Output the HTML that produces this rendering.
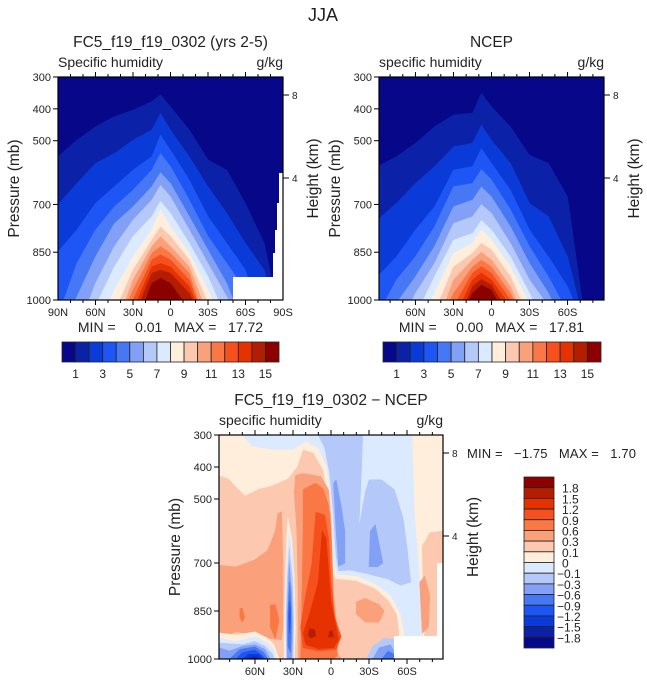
<!DOCTYPE html>
<html><head><meta charset="utf-8">
<style>
html,body{margin:0;padding:0;background:#fff;}
svg text{font-family:"Liberation Sans",sans-serif;fill:#222;}
.pre{white-space:pre;}
</style></head>
<body>
<svg id="fig" width="647" height="684" viewBox="0 0 647 684" xmlns="http://www.w3.org/2000/svg">
<defs>
<clipPath id="clip1"><rect x="58" y="77" width="225" height="223"/></clipPath>
<clipPath id="clip2"><rect x="379" y="77" width="225" height="223"/></clipPath>
<clipPath id="clip3"><rect x="219" y="435" width="224" height="224"/></clipPath>
</defs>
<text x="323" y="21" font-size="18" text-anchor="middle">JJA</text>
<g id="p1"></g><g id="p2"></g><g id="p3"></g>
<g id="cb1"></g><g id="cb2"></g><g id="cb3"></g>
</svg>
<script>
const NS='http://www.w3.org/2000/svg';
const palette=['#07078a','#0b22a8','#0a3ad8','#1e55f5','#4678f5','#82a0f5','#b4c8fa','#dceaff','#ffeedc','#fcc8b0','#faa07a','#fa7846','#f5501e','#e63200','#b41e00','#8c0000'];
const latGrid=[90,75,60,45,30,15,8,0,-15,-30,-45,-60,-75,-90];
const fc5Contours=[
[550,498,456,424,404,377,356,393,466,560,592,697,822,1100],
[700,634,571,540,498,466,414,466,550,644,728,822,906,1100],
[848,780,696,644,592,550,482,529,623,738,822,906,1100,1100],
[1050,885,780,707,655,592,540,581,686,800,885,969,1100,1100],
[1100,990,864,760,707,644,600,634,738,843,948,1100,1100,1100],
[1100,1100,948,832,749,686,640,676,780,885,990,1100,1100,1100],
[1100,1100,1020,896,800,738,690,728,822,927,1060,1100,1100,1100],
[1100,1100,1100,969,864,780,717,770,853,969,1100,1100,1100,1100],
[1100,1100,1100,1040,906,812,770,800,874,1010,1100,1100,1100,1100],
[1100,1100,1100,1100,937,832,801,832,896,1050,1100,1100,1100,1100],
[1100,1100,1100,1100,969,853,832,853,916,1100,1100,1100,1100,1100],
[1100,1100,1100,1100,1000,874,858,874,937,1100,1100,1100,1100,1100],
[1100,1100,1100,1100,1030,896,885,896,958,1100,1100,1100,1100,1100],
[1100,1100,1100,1100,1060,916,906,916,979,1100,1100,1100,1100,1100],
[1100,1100,1100,1100,1100,948,932,948,1030,1100,1100,1100,1100,1100]];
const ncepContours=[
[581,550,508,456,419,414,351,393,456,545,571,676,1100,1100],
[749,696,634,581,519,508,451,498,571,696,738,864,1100,1100],
[927,864,780,707,592,581,524,571,655,780,864,958,1100,1100],
[1050,937,864,770,644,634,590,623,717,832,927,1040,1100,1100],
[1100,1010,927,832,707,686,645,676,770,885,979,1100,1100,1100],
[1100,1100,979,885,760,738,700,728,822,937,1020,1100,1100,1100],
[1100,1100,1050,927,812,791,750,780,864,979,1100,1100,1100,1100],
[1100,1100,1100,979,853,822,780,812,896,1010,1100,1100,1100,1100],
[1100,1100,1100,1040,896,853,822,843,927,1060,1100,1100,1100,1100],
[1100,1100,1100,1100,937,874,850,874,958,1100,1100,1100,1100,1100],
[1100,1100,1100,1100,979,896,875,896,979,1100,1100,1100,1100,1100],
[1100,1100,1100,1100,1020,916,895,916,1000,1100,1100,1100,1100,1100],
[1100,1100,1100,1100,1060,937,915,937,1020,1100,1100,1100,1100,1100],
[1100,1100,1100,1100,1100,958,935,953,1050,1100,1100,1100,1100,1100],
[1100,1100,1100,1100,1100,979,953,969,1080,1100,1100,1100,1100,1100]];
const diffBase=9;
const diffRegions=[
[8,[[88.4,300],[88.4,426],[81,436],[68,489],[57,468],[47,458],[34,436],[27,400],[22,345],[14,355],[6,410],[3,500],[2,600],[1,700],[-3,748],[-20,755],[-35,780],[-45,815],[-52,860],[-54,920],[-52,1000],[-75,1000],[-72,640],[-80,620],[-88.4,610],[-88.4,300]]],
[7,[[70,300],[62,335],[45,345],[30,345],[20,320],[10,340],[3,400],[0,500],[-1,600],[-2,700],[-5,735],[-20,740],[-35,765],[-47,800],[-55,860],[-58,920],[-56,1000],[-73,1000],[-71,900],[-70,760],[-68,650],[-66,560],[-64,300]]],
[6,[[10,300],[-25,300],[-24,420],[-22,590],[-27,480],[-30,440],[-40,440],[-50,470],[-57,560],[-60,650],[-63,760],[-55,770],[-45,750],[-30,735],[-15,722],[-6,725],[-4,680],[-2,550],[1,420],[5,340]]],
[5,[[-2,450],[-4,440],[-8,520],[-11,600],[-11,700],[-6,710],[-4,600]]],
[5,[[-31,600],[-35,580],[-41,700],[-37,712],[-30,712]]],
[9,[[-72,650],[-78,605],[-88.4,600],[-88.4,960],[-74,960]]],
[10,[[-70,760],[-74,740],[-78,800],[-77,900],[-72,920]]],
[10,[[28,426],[22,420],[8,430],[2,470],[0,560],[-1,700],[-2,800],[-5,900],[-5,980],[-8,1000],[26,1000],[26,800],[27,600],[29,480]]],
[10,[[88.4,707],[75,712],[60,690],[50,660],[44,600],[42,545],[39,540],[38,700],[38,900],[39,940],[50,935],[60,925],[75,915],[88.4,935]]],
[10,[[-20,822],[-27,810],[-38,830],[-42,850],[-38,885],[-27,885],[-20,860]]],
[11,[[22,470],[12,450],[6,470],[2,520],[0,600],[-1,700],[-2,850],[-5,950],[-5,990],[-2,1000],[24,1000],[23,800],[22,600]]],
[11,[[48,832],[44,830],[41,880],[44,937],[48,900]]],
[11,[[72,843],[70,840],[68,870],[70,885],[72,870]]],
[12,[[12,541],[5,550],[2,620],[0,760],[-3,870],[-8,930],[-4,970],[10,975],[22,965],[24,900],[20,800],[15,700]]],
[13,[[7,600],[4,620],[2,720],[0,820],[-4,900],[-6,940],[-2,965],[10,968],[20,955],[22,920],[17,860],[10,760]]],
[14,[[17,905],[13,908],[12,928],[16,935],[18,925]]],
[14,[[1,912],[-1,912],[-2,930],[2,932]]],
[8,[[34,560],[31,620],[29,750],[28,900],[29,1000],[37,1000],[37,900],[36,750],[35,620]]],
[7,[[33,600],[30,700],[29,850],[29.5,1000],[36,1000],[36,850],[35,700]]],
[6,[[33,650],[30.5,750],[29.5,880],[30,1000],[35,1000],[35.5,880],[34.5,750]]],
[5,[[33,700],[31,800],[30.5,900],[31,1000],[34.5,1000],[34.5,900],[34,800]]],
[4,[[32.5,760],[31.5,840],[31.5,940],[32,980],[34,960],[34,850]]],
[3,[[32.5,820],[32,870],[32.5,920],[33.3,870]]],
[8,[[88.4,918],[75,925],[60,915],[50,935],[45,955],[41,1000],[88.4,1000]]],
[7,[[88.4,935],[75,945],[60,930],[50,950],[45,970],[43,1000],[88.4,1000]]],
[6,[[88.4,950],[70,955],[60,945],[52,960],[46,985],[45,1000],[88.4,1000]]],
[5,[[88.4,965],[80,975],[70,960],[60,955],[52,970],[48,1000],[88.4,1000]]],
[4,[[80,1000],[72,970],[60,962],[53,980],[50,1000]]],
[3,[[75,1000],[70,980],[60,972],[54,990],[52,1000]]],
[2,[[70,1000],[65,985],[57,985],[54,1000]]],
[1,[[66,1000],[60,993],[56,1000]]],
[6,[[-28,1000],[-33,960],[-42,935],[-52,940],[-57,1000]]],
[5,[[-33,1000],[-38,965],[-47,955],[-53,1000]]],
[4,[[-40,1000],[-45,975],[-52,990],[-52,1000]]]];
const pressureTicks=[300,400,500,700,850,1000];
const heightTicks=[8,4];
const latTickLabels1=['90N','60N','30N','0','30S','60S','90S'];
const latTickValues1=[90,60,30,0,-30,-60,-90];
const latTickLabels2=['60N','30N','0','30S','60S'];
const latTickValues2=[60,30,0,-30,-60];
const cbLabelsAbs=['1','3','5','7','9','11','13','15'];
const cbLabelsDiff=['1.8','1.5','1.2','0.9','0.6','0.3','0.1','0','\u22120.1','\u22120.3','\u22120.6','\u22120.9','\u22121.2','\u22121.5','\u22121.8'];

function mk(tag,attrs,parent,txt){const e=document.createElementNS(NS,tag);for(const k in attrs)e.setAttribute(k,attrs[k]);if(txt!==undefined)e.textContent=txt;parent.appendChild(e);return e;}
function axesFn(P){return {x:lat=>P.x0+(P.lm-lat)/(2*P.lm)*P.w, y:p=>P.y0+(p-300)/700*P.h};}
function polyStr(A,pts){return pts.map(q=>A.x(q[0]).toFixed(1)+','+A.y(q[1]).toFixed(1)).join(' ');}

function drawFrame(g,P,A,o){
  for(let lat=-80;lat<=80;lat+=10){
    if(Math.abs(lat)>P.lm)continue;
    const major=lat%30===0, len=major?5:3, X=A.x(lat);
    const t=mk('line',{x1:X,x2:X,y1:P.y0+P.h,y2:P.y0+P.h+len,stroke:'#000','stroke-width':1},g);
    
    const t2=mk('line',{x1:X,x2:X,y1:P.y0,y2:P.y0-len,stroke:'#000','stroke-width':1},g);
    
  }
  pressureTicks.forEach(p=>{
    const Y=A.y(p);
    const t=mk('line',{x1:P.x0-5,x2:P.x0,y1:Y,y2:Y,stroke:'#000','stroke-width':1},g);
    
    const l=mk('text',{x:P.x0-7,y:Y+4,'font-size':11,'text-anchor':'end'},g,String(p));
    
  });
  const hy={8:P.y0+18,4:P.y0+101};
  heightTicks.forEach(h=>{
    const Y=hy[h];
    const t=mk('line',{x1:P.x0+P.w,x2:P.x0+P.w+6,y1:Y,y2:Y,stroke:'#000','stroke-width':1},g);
    
    const l=mk('text',{x:P.x0+P.w+9,y:Y+4,'font-size':10},g,String(h));
    
  });
  o.labs.forEach((s,i)=>{
    const l=mk('text',{x:A.x(o.vals[i]),y:P.y0+P.h+16,'font-size':11,'text-anchor':'middle'},g,s);
    
  });
  const fr=mk('rect',{x:P.x0,y:P.y0,width:P.w,height:P.h,fill:'none',stroke:'#000','stroke-width':1.2},g);
  
  const yl=mk('text',{transform:`translate(${P.x0-39},${P.y0+P.h/2}) rotate(-90)`,'font-size':15.5,'text-anchor':'middle'},g,'Pressure (mb)');
  
  const hl=mk('text',{transform:`translate(${P.x0+P.w+35},${P.y0+P.h/2-10}) rotate(-90)`,'font-size':15.5,'text-anchor':'middle'},g,'Height (km)');
  
  const lt=mk('text',{x:P.x0,y:P.y0-10,'font-size':14},g,o.left);
  
  const rt=mk('text',{x:P.x0+P.w,y:P.y0-10,'font-size':14,'text-anchor':'end'},g,'g/kg');
  
  const tt=mk('text',{x:P.x0+P.w/2,y:P.y0-30,'font-size':15.5,'text-anchor':'middle'},g,o.title);
  
}

function drawAbsPanel(gid,P,clip,contours,o){
  const g=document.getElementById(gid);const A=axesFn(P);
  const cg=mk('g',{'clip-path':`url(#${clip})`},g);
  const bg=mk('rect',{x:P.x0,y:P.y0,width:P.w,height:P.h,fill:palette[0]},cg);
  
  contours.forEach((row,k)=>{
    const pts=latGrid.map((lat,i)=>[lat,row[i]]);
    pts.push([latGrid[latGrid.length-1],1150]);pts.push([latGrid[0],1150]);
    const pg=mk('polygon',{points:polyStr(A,pts),fill:palette[k+1],stroke:palette[k+1],'stroke-width':0.5},cg);
    
  });
  if(o.mask){const m=mk('polygon',{points:o.mask,fill:'#fff'},cg);
    }
  drawFrame(g,P,A,o);
  const mm=mk('text',{x:P.x0+P.w/2,y:P.y0+P.h+32,'font-size':14,'text-anchor':'middle','class':'pre'},g,o.minmax);
  
}

const P1={x0:58,y0:77,w:225,h:223,lm:90};
const P2={x0:379,y0:77,w:225,h:223,lm:88.75};
const P3={x0:219,y0:435,w:224,h:224,lm:88.4};
drawAbsPanel('p1',P1,'clip1',fc5Contours,{labs:latTickLabels1,vals:latTickValues1,left:'Specific humidity',title:'FC5_f19_f19_0302 (yrs 2-5)',minmax:'MIN =     0.01   MAX =   17.72',
  mask:'280,173 284,173 284,301 233,301 233,277 273,277 273,253 275,253 275,230 277,230 277,203 279,203 279,173'});
drawAbsPanel('p2',P2,'clip2',ncepContours,{labs:latTickLabels2,vals:latTickValues2,left:'specific humidity',title:'NCEP',minmax:'MIN =     0.00   MAX =   17.81'});

(function(){
  const g=document.getElementById('p3');const A=axesFn(P3);
  const cg=mk('g',{'clip-path':'url(#clip3)'},g);
  const bg=mk('rect',{x:P3.x0,y:P3.y0,width:P3.w,height:P3.h,fill:palette[diffBase]},cg);
  
  diffRegions.forEach(r=>{
    const pg=mk('polygon',{points:polyStr(A,r[1]),fill:palette[r[0]],stroke:palette[r[0]],'stroke-width':0.5,'stroke-linejoin':'round'},cg);
    
  });
  const m=mk('polygon',{points:'394,636 437,636 437,563 444,563 444,660 394,660',fill:'#fff'},cg);
  
  drawFrame(g,P3,A,{labs:latTickLabels2,vals:latTickValues2,left:'specific humidity',title:'FC5_f19_f19_0302 \u2212 NCEP'});
  const mm=mk('text',{x:467,y:458,'font-size':13,'class':'pre',textLength:169,lengthAdjust:'spacing'},g,'MIN =   \u22121.75   MAX =   1.70');
  
})();

function hbar(gid,x0,x1,y0,h){
  const g=document.getElementById(gid);const bw=(x1-x0)/16;
  palette.forEach((c,i)=>{const r=mk('rect',{x:x0+i*bw,y:y0,width:bw,height:h,fill:c,stroke:'#222','stroke-width':0.8},g);
    });
  cbLabelsAbs.forEach((s,i)=>{const l=mk('text',{x:x0+(2*i+1)*bw,y:y0+h+16,'font-size':12,'text-anchor':'middle'},g,s);
    });
}
hbar('cb1',62,279,342,20);
hbar('cb2',383,601,342,20);
(function(){
  const g=document.getElementById('cb3');const x0=524,w=30,y0=477,bh=171/16;
  palette.slice().reverse().forEach((c,i)=>{const r=mk('rect',{x:x0,y:y0+i*bh,width:w,height:bh,fill:c,stroke:'#222','stroke-width':0.8},g);
    });
  cbLabelsDiff.forEach((s,i)=>{const neg=s.charAt(0)==='\u2212';
    const l=mk('text',{x:neg?557:562,y:y0+(i+1)*bh+5,'font-size':12},g,s);
    });
})();
</script>
</body></html>
